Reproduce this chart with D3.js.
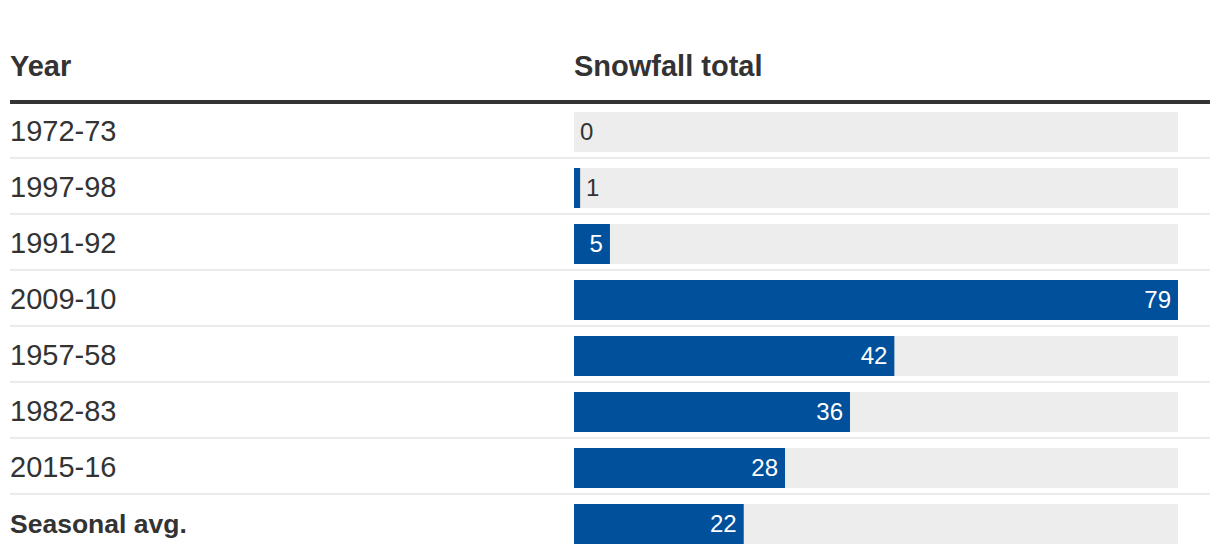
<!DOCTYPE html>
<html>
<head>
<meta charset="utf-8">
<script src="https://cdn.jsdelivr.net/npm/d3@7"></script>
<style>
  html, body { margin: 0; padding: 0; background: #fff; }
  svg { display: block; }
</style>
</head>
<body>
<svg id="chart" width="1220" height="560"></svg>
<script>
const categories = ["1972-73", "1997-98", "1991-92", "2009-10", "1957-58", "1982-83", "2015-16", "Seasonal avg."];
const values = [0, 0.8, 4.7, 79, 41.9, 36.1, 27.6, 22.2];
const labels = ["0", "1", "5", "79", "42", "36", "28", "22"];
const boldRows = ["Seasonal avg."];
const headers = ["Year", "Snowfall total"];

const svg = d3.select("#chart");
const left = 10, right = 1210;
const barX0 = 574, barX1 = 1178;
const headerY = 76;
const rowTop = 104, rowH = 56;

const FONT = "'Liberation Sans', Arial, sans-serif";
const TEXT = "#333333";
const BLUE = "#00509b";
const BG = "#ededed";

const y = d3.scaleBand()
  .domain(categories)
  .range([rowTop, rowTop + rowH * categories.length])
  .paddingInner(0).paddingOuter(0);

const x = d3.scaleLinear()
  .domain([0, d3.max(values)])
  .range([barX0, barX1]);

// headers
svg.append("text").attr("x", left).attr("y", headerY)
  .attr("font-family", FONT).attr("font-weight", 700).attr("font-size", 29)
  .attr("fill", TEXT).text(headers[0]);
svg.append("text").attr("x", barX0).attr("y", headerY)
  .attr("font-family", FONT).attr("font-weight", 700).attr("font-size", 29)
  .attr("fill", TEXT).text(headers[1]);

// top rule
svg.append("rect").attr("x", left).attr("y", 100).attr("width", right - left).attr("height", 4)
  .attr("fill", "#333333");

const data = categories.map((c, i) => ({ cat: c, value: values[i], label: labels[i] }));

const rows = svg.selectAll("g.row").data(data).join("g").attr("class", "row");

// separators (not after last)
rows.filter((d, i) => i < data.length - 1)
  .append("rect")
  .attr("x", left).attr("width", right - left)
  .attr("y", d => y(d.cat) + 53).attr("height", 2)
  .attr("fill", "#ebebeb");

// row labels
rows.append("text")
  .attr("x", left)
  .attr("y", d => y(d.cat) + 37)
  .attr("font-family", FONT)
  .attr("font-size", d => boldRows.includes(d.cat) ? 26.5 : 29)
  .attr("font-weight", d => boldRows.includes(d.cat) ? 700 : 400)
  .attr("fill", TEXT)
  .text(d => d.cat);

// background bars
rows.append("rect")
  .attr("x", x(0)).attr("width", x.range()[1] - x(0))
  .attr("y", d => y(d.cat) + 8).attr("height", 40)
  .attr("fill", BG);

// value bars
rows.append("rect")
  .attr("x", x(0)).attr("width", d => x(d.value) - x(0))
  .attr("y", d => y(d.cat) + 8).attr("height", 40)
  .attr("fill", BLUE);

// value labels
rows.append("text")
  .attr("font-family", FONT)
  .attr("font-size", 24)
  .attr("y", d => y(d.cat) + 36)
  .each(function(d) {
    const w = x(d.value) - x(0);
    const sel = d3.select(this);
    if (w > 30) {
      sel.attr("x", x(d.value) - 7).attr("text-anchor", "end").attr("fill", "#ffffff");
    } else {
      sel.attr("x", x(d.value) + 6).attr("text-anchor", "start").attr("fill", TEXT);
    }
  })
  .text(d => d.label);
</script>
</body>
</html>
